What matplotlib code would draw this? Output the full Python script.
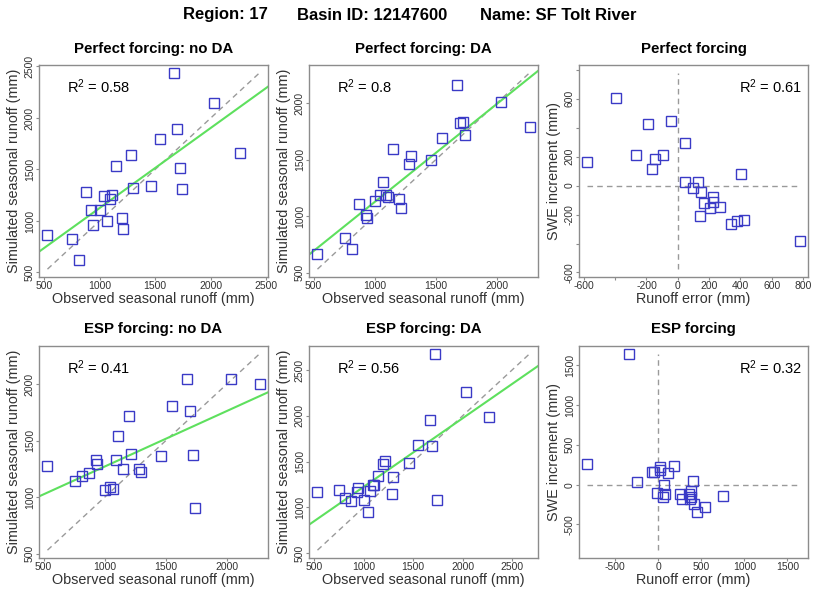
import numpy as np
import matplotlib
matplotlib.use('Agg')
import matplotlib.pyplot as plt

plt.rcParams['font.family'] = ['Liberation Sans', 'DejaVu Sans']
plt.rcParams['mathtext.fontset'] = 'custom'
plt.rcParams['mathtext.rm'] = 'Liberation Sans'

# ---------------- data ----------------
obs = [532, 753, 811, 875, 927, 938, 1003, 1043, 1066, 1091, 1109, 1149,
       1198, 1211, 1284, 1297, 1460, 1547, 1673, 1694, 1723, 1740, 2033, 2266]

sim_perfect_noda = [861, 825, 618, 1277, 1110, 962, 1110, 1241, 995, 1215, 1251, 1536,
                    1025, 920, 1641, 1320, 1339, 1795, 2438, 1893, 1510, 1313, 2149, 1657]
sim_perfect_da = [664, 810, 708, 1110, 1006, 982, 1137, 1188, 1304, 1185, 1170, 1592,
                  1155, 1071, 1458, 1533, 1494, 1688, 2158, 1827, 1833, 1720, 2006, 1786]
sim_esp_noda = [1278, 1145, 1189, 1213, 1331, 1293, 1062, 1092, 1071, 1331, 1538, 1246,
                1716, 1382, 1251, 1225, 1361, 1805, 2044, 1757, 1370, 905, 2044, 2000]
sim_esp_da = [1163, 1185, 1104, 1074, 1167, 1215, 1085, 952, 1174, 1241, 1241, 1344,
              1470, 1507, 1144, 1333, 1481, 1685, 1952, 1670, 2678, 1081, 2259, 1993]

err_perfect = [-577, -395, -265, -190, -165, -147, -92, -45, 47, 47, 96, 130,
               139, 150, 165, 205, 222, 222, 269, 342, 380, 406, 421, 778]
swe_perfect = [160, 605, 212, 424, 111, 184, 212, 447, 296, 24, -19, 24,
               -207, -42, -122, -158, -78, -113, -148, -266, -247, 82, -235, -384]

err_esp = [-822, -345, -252, -77, -54, 16, 23, 112, 179, 407, 69, -19,
           78, 58, 252, 276, 357, 380, 368, 418, 446, 539, 755, 385]
swe_esp = [254, 1641, 34, 156, 156, 220, 178, 140, 236, 51, -8, -101,
           -114, -161, -119, -182, -119, -76, -182, -237, -347, -279, -144, -150]

titles = ['Perfect forcing: no DA', 'Perfect forcing: DA', 'Perfect forcing',
          'ESP forcing: no DA', 'ESP forcing: DA', 'ESP forcing']
r2_values = ['0.58', '0.8', '0.61', '0.41', '0.56', '0.32']

runoff_ticks = [500, 1000, 1500, 2000, 2500]
swe_ticks_perfect = [-600, -400, -200, 0, 200, 400, 600, 800]
swe_xlabels_perfect = ['-600', '', '-200', '0', '200', '400', '600', '800']
swe_ylabels_perfect = ['-600', '', '-200', '0', '200', '', '600', '']
swe_ticks_esp = [-500, 0, 500, 1000, 1500]

suptitle_parts = ['Region: 17', 'Basin ID: 12147600', 'Name: SF Tolt River']

# ---------------- style ----------------
W, H = 814, 589
fig = plt.figure(figsize=(W / 100, H / 100), dpi=100)

BLUE = '#3a3ac6'
GREEN = '#5ee05e'
GREY = '#9a9a9a'
BOX = '#8c8c8c'
TXT = '#333333'


def rect(l, t, w, h):
    return [l / W, 1 - (t + h) / H, w / W, h / H]


def data_lim(*arrs):
    vals = np.concatenate([np.asarray(a, float) for a in arrs])
    lo, hi = vals.min(), vals.max()
    pad = 0.04 * (hi - lo)
    return lo, hi, (lo - pad, hi + pad)


def style(ax, ticks, xlabels, ylabels, lim):
    ax.set_xlim(lim)
    ax.set_ylim(lim)
    ax.set_xticks(ticks)
    ax.set_xticklabels(xlabels)
    ax.set_yticks(ticks)
    ax.set_yticklabels(ylabels, rotation=90, va='center')
    for s in ax.spines.values():
        s.set_color(BOX)
        s.set_linewidth(1.0)
    ax.tick_params(direction='out', length=2.2, width=0.8, color=BOX,
                   labelsize=7.5, labelcolor=TXT, pad=0.8)


def r2_text(ax, val, right=False):
    label = r'$\mathregular{R^2}$ = ' + val
    if right:
        ax.annotate(label, xy=(1, 1), xycoords='axes fraction', xytext=(-6, -22),
                    textcoords='offset pixels', ha='right', va='center', fontsize=10.5)
    else:
        ax.annotate(label, xy=(0, 1), xycoords='axes fraction', xytext=(28, -22),
                    textcoords='offset pixels', ha='left', va='center', fontsize=10.5)


def runoff_panel(ax, x, y, title, r2):
    lo, hi, lim = data_lim(x, y)
    ax.plot([lo, hi], [lo, hi], ls=(0, (4, 3)), color=GREY, lw=1.0, zorder=1)
    slope, icpt = np.polyfit(x, y, 1)
    ax.axline((0, icpt), slope=slope, color=GREEN, lw=1.5, zorder=2)
    ax.plot(x, y, 's', mfc='none', mec=BLUE, ms=6.5, mew=1.0, zorder=3)
    ticks = [t for t in runoff_ticks if lim[0] <= t <= lim[1]]
    labels = [str(t) for t in ticks]
    style(ax, ticks, labels, labels, lim)
    ax.set_title(title, fontsize=10.8, fontweight='bold', pad=9)
    ax.set_xlabel('Observed seasonal runoff (mm)', fontsize=10.4, color=TXT, labelpad=0.5)
    ax.set_ylabel('Simulated seasonal runoff (mm)', fontsize=10.4, color=TXT, labelpad=2.5)
    r2_text(ax, r2)


def swe_panel(ax, x, y, title, r2, ticks, xlabels, ylabels):
    lo, hi, lim = data_lim(x, y)
    ax.plot([lo, hi], [0, 0], ls=(0, (4, 3)), color=GREY, lw=1.0, zorder=1)
    ax.plot([0, 0], [lo, hi], ls=(0, (4, 3)), color=GREY, lw=1.0, zorder=1)
    ax.plot(x, y, 's', mfc='none', mec=BLUE, ms=6.5, mew=1.0, zorder=3)
    style(ax, ticks, xlabels, ylabels, lim)
    ax.set_title(title, fontsize=10.8, fontweight='bold', pad=9)
    ax.set_xlabel('Runoff error (mm)', fontsize=10.4, color=TXT, labelpad=0.5)
    ax.set_ylabel('SWE increment (mm)', fontsize=10.4, color=TXT, labelpad=2.5)
    r2_text(ax, r2, right=True)


lefts = [39, 309, 579]
tops = [65, 346]
aw, ah = 229, 212

axes = [[fig.add_axes(rect(l, t, aw, ah)) for l in lefts] for t in tops]

runoff_panel(axes[0][0], obs, sim_perfect_noda, titles[0], r2_values[0])
runoff_panel(axes[0][1], obs, sim_perfect_da, titles[1], r2_values[1])
swe_panel(axes[0][2], err_perfect, swe_perfect, titles[2], r2_values[2],
          swe_ticks_perfect, swe_xlabels_perfect, swe_ylabels_perfect)
runoff_panel(axes[1][0], obs, sim_esp_noda, titles[3], r2_values[3])
runoff_panel(axes[1][1], obs, sim_esp_da, titles[4], r2_values[4])
esp_lbl = [str(t) for t in swe_ticks_esp]
swe_panel(axes[1][2], err_esp, swe_esp, titles[5], r2_values[5],
          swe_ticks_esp, esp_lbl, esp_lbl)

for txt, xc in zip(suptitle_parts, [225, 372.5, 558]):
    fig.text(xc / W, 1 - 15 / H, txt, ha='center', va='center',
             fontsize=12, fontweight='bold')

fig.savefig('out.png', dpi=100)
